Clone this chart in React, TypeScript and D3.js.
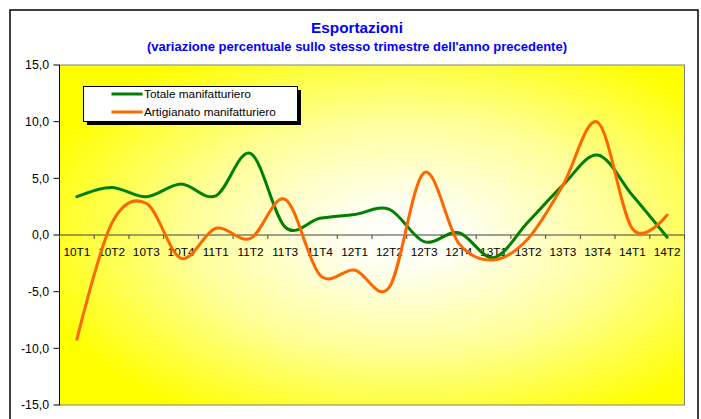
import React from "react";
import * as d3 from "d3";

const categories = ["10T1","10T2","10T3","10T4","11T1","11T2","11T3","11T4","12T1","12T2","12T3","12T4","13T1","13T2","13T3","13T4","14T1","14T2"];
const totale = [3.38, 4.2, 3.38, 4.5, 3.45, 7.2, 0.7, 1.47, 1.8, 2.27, -0.59, 0.2, -2.0, 1.17, 4.4, 7.06, 3.5, -0.2];
const artigianato = [-9.2, 1.0, 2.8, -2.06, 0.59, -0.3, 3.15, -3.53, -3.09, -4.6, 5.5, -0.74, -2.2, -0.3, 4.4, 9.94, 0.55, 1.76];
const yTicks = [15, 10, 5, 0, -5, -10, -15];
const seriesNames = ["Totale manifatturiero", "Artigianato manifatturiero"];
const seriesColors = ["#008000", "#FF6600"];
const title = "Esportazioni";
const subtitle = "(variazione percentuale sullo stesso trimestre dell'anno precedente)";

const W = 701, H = 419;
const plot = { left: 59.5, right: 684.5, top: 65, bottom: 405 };
const font = "'Liberation Sans', Arial, sans-serif";

export default function App() {
  const x = d3.scaleBand<string>().domain(categories).range([plot.left, plot.right]).padding(0);
  const y = d3.scaleLinear().domain([-15, 15]).range([plot.bottom, plot.top]);
  const cx = (c: string) => (x(c) as number) + x.bandwidth() / 2;
  const line = d3.line<number>()
    .x((_, i) => cx(categories[i]))
    .y((d) => y(d))
    .curve(d3.curveCatmullRom.alpha(0));
  const series = [totale, artigianato];
  const boundaries = categories.map((c) => x(c) as number).concat([plot.right]);
  const fmt = (v: number) => v.toFixed(1).replace(".", ",");

  return (
    <svg width={W} height={H} style={{ position: "absolute", left: 0, top: 0, background: "#fff" }}>
      <defs>
        <radialGradient id="bg" cx="0.55" cy="0.5" r="0.62" fx="0.55" fy="0.5">
          <stop offset="0" stopColor="#FFFFFF" />
          <stop offset="0.15" stopColor="#FFFFF2" />
          <stop offset="0.55" stopColor="#FFFF99" />
          <stop offset="1" stopColor="#FFFF00" />
        </radialGradient>
      </defs>
      <rect x={10} y={10} width={688} height={420} fill="#fff" stroke="#000" strokeWidth={1.5} />
      <text x={357} y={33} textAnchor="middle" fontFamily={font} fontWeight="bold" fontSize={15.3} fill="#0000FF">{title}</text>
      <text x={357} y={51} textAnchor="middle" fontFamily={font} fontWeight="bold" fontSize={13} fill="#0000FF">{subtitle}</text>
      <rect x={plot.left} y={plot.top} width={plot.right - plot.left} height={plot.bottom - plot.top} fill="url(#bg)" stroke="#808080" strokeWidth={1} />
      <line x1={plot.left} x2={plot.left} y1={plot.top} y2={plot.bottom} stroke="#000" strokeWidth={1} />
      {yTicks.map((t) => (
        <g key={t}>
          <line x1={plot.left - 6} x2={plot.left} y1={y(t)} y2={y(t)} stroke="#000" />
          <text x={49} y={y(t)} dy="0.35em" textAnchor="end" fontFamily={font} fontSize={12.3} fill="#000">{fmt(t)}</text>
        </g>
      ))}
      <line x1={plot.left} x2={plot.right} y1={y(0)} y2={y(0)} stroke="#404040" strokeWidth={1.2} />
      {boundaries.map((b, i) => (
        <line key={i} x1={b} x2={b} y1={y(0)} y2={y(0) + 4} stroke="#404040" />
      ))}
      {categories.map((c) => (
        <text key={c} x={cx(c)} y={y(0) + 17} dy="0.35em" textAnchor="middle" fontFamily={font} fontSize={11.8} fill="#000">{c}</text>
      ))}
      {series.map((s, i) => (
        <path key={i} d={line(s) || ""} fill="none" stroke={seriesColors[i]} strokeWidth={3} strokeLinejoin="round" strokeLinecap="round" />
      ))}
      <rect x={87} y={90} width={214} height={35} fill="#000" />
      <rect x={83.5} y={86.5} width={214} height={35} fill="#fff" stroke="#000" strokeWidth={1} />
      {seriesNames.map((n, i) => (
        <g key={n}>
          <line x1={111.5} x2={142.5} y1={94 + i * 18} y2={94 + i * 18} stroke={seriesColors[i]} strokeWidth={3} />
          <text x={144} y={94 + i * 18} dy="0.35em" fontFamily={font} fontSize={11.8} fill="#000">{n}</text>
        </g>
      ))}
    </svg>
  );
}
